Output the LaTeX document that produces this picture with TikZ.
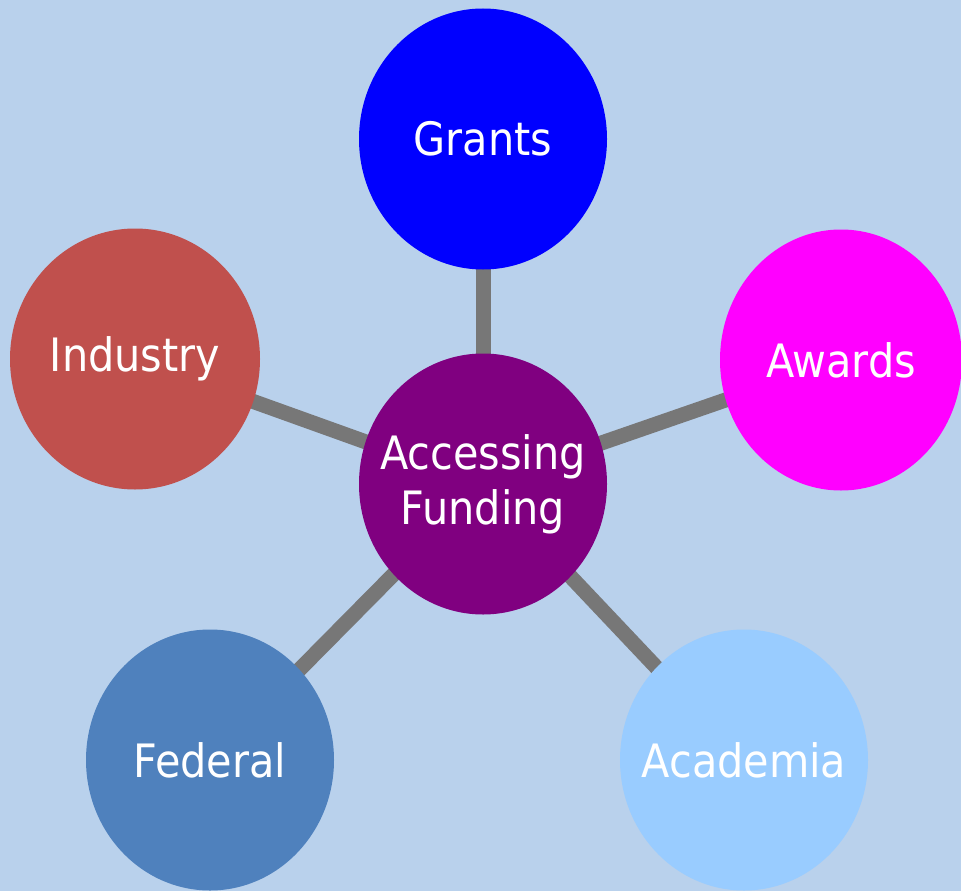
\documentclass[tikz,border=0pt]{standalone}
\usepackage{fontspec}
\setmainfont{DejaVu Sans Condensed}
\usetikzlibrary{shapes.geometric,backgrounds}
\definecolor{bg}{HTML}{B9D1EC}
\definecolor{linkc}{HTML}{777777}
\definecolor{cgrants}{HTML}{0000FF}
\definecolor{cawards}{HTML}{FF00FF}
\definecolor{cindustry}{HTML}{C0504D}
\definecolor{ccenter}{HTML}{800080}
\definecolor{cfederal}{HTML}{4F81BD}
\definecolor{cacademia}{HTML}{99CCFF}
\tikzset{
  bubble/.style={ellipse, minimum width=248pt, minimum height=261pt, inner ysep=0pt,
    inner xsep=-70pt, text=white, font=\fontsize{46}{55}\selectfont, align=center},
  link/.style={linkc, line width=15pt}
}
\begin{document}
\begin{tikzpicture}[x=1pt,y=-1pt]
\node[bubble, fill=ccenter] (c) at (483,484) {Accessing\\Funding};
\node[bubble, fill=cgrants] (g) at (483,139) {Grants};
\node[bubble, fill=cawards, minimum width=242pt] (a) at (841,360) {Awards};
\node[bubble, fill=cindustry, minimum width=250pt] (i) at (135,359) {Industry};
\node[bubble, fill=cfederal] (f) at (210,760) {Federal};
\node[bubble, fill=cacademia] (ac) at (744,760) {Academia};
\begin{scope}[on background layer]
\fill[bg] (0,0) rectangle (961,891);
\draw[link] (c.center) -- (g.center);
\draw[link] (c.center) -- (a.center);
\draw[link] (c.center) -- (i.center);
\draw[link] (c.center) -- (f.center);
\draw[link] (c.center) -- (ac.center);
\end{scope}
\pgfresetboundingbox
\useasboundingbox (0,0) rectangle (961,891);
\end{tikzpicture}
\end{document}
